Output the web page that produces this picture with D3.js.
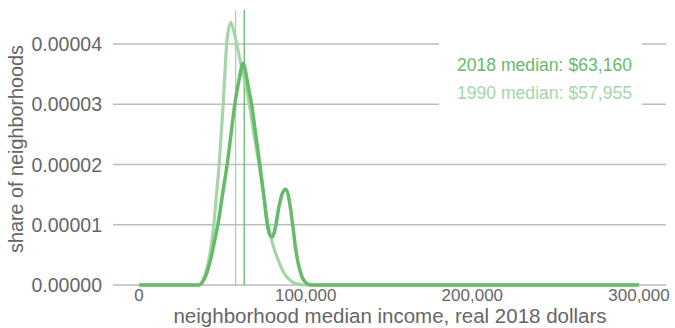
<!DOCTYPE html>
<html><head><meta charset="utf-8">
<script src="https://cdn.jsdelivr.net/npm/d3@7"></script>
<style>
html,body{margin:0;padding:0;background:#fff;}
text{font-family:"Liberation Sans",Arial,sans-serif;}
</style></head>
<body><svg id="c" width="675" height="328"></svg>
<script>
// income (dollars)
const income1990 = [0, 20000, 30000, 36000, 38000, 40000, 42500, 44900, 46500, 48100, 49300, 50500, 51500, 52600, 55000, 57000, 58600, 62500, 66200, 69000, 72000, 74800, 77500, 80000, 83000, 87000, 91000, 96000, 100000, 300000];
// density (share of neighborhoods)
const density1990 = [0, 0, 0, 0, 0.0000005, 0.000002, 0.000005, 0.00001, 0.000015, 0.00002, 0.000025, 0.00003, 0.000035, 0.00004, 0.0000436, 0.000042, 0.00004, 0.000035, 0.00003, 0.000025, 0.00002, 0.000015, 0.00001, 0.000007, 0.0000045, 0.000002, 0.0000007, 0.0000001, 0, 0];
const income2018 = [0, 20000, 30000, 36000, 38000, 40000, 42000, 44000, 45700, 47300, 50100, 52900, 55200, 57500, 60000, 62500, 63500, 65500, 67600, 70000, 72500, 74800, 77000, 78700, 80000, 82000, 84000, 86000, 88000, 89500, 91000, 92200, 94000, 96000, 98000, 100000, 103000, 300000];
const density2018 = [0, 0, 0, 0, 0.0000005, 0.0000015, 0.0000032, 0.0000055, 0.0000078, 0.00001, 0.000015, 0.00002, 0.000025, 0.00003, 0.000034, 0.0000368, 0.000036, 0.000033, 0.00003, 0.000025, 0.00002, 0.000015, 0.00001, 0.0000082, 0.000008, 0.0000098, 0.000013, 0.0000152, 0.0000159, 0.000015, 0.0000125, 0.00001, 0.000006, 0.000003, 0.0000012, 0.0000004, 0, 0];
const median2018 = 63160;
const median1990 = 57955;
const xTicks = [0, 100000, 200000, 300000];
const yTicks = [0, 0.00001, 0.00002, 0.00003, 0.00004];
const legendLabels = ["2018 median: $63,160", "1990 median: $57,955"];

const dark = "#66bb6a", light = "#a5d6a7";
const svg = d3.select("#c");
const x = d3.scaleLinear().domain([0, 300000]).range([139, 639]);
const y = d3.scaleLinear().domain([0, 0.00004]).range([285, 44]);

// gridlines
svg.append("g").selectAll("line").data(yTicks).join("line")
  .attr("x1", 113).attr("x2", 666)
  .attr("y1", d => y(d)).attr("y2", d => y(d))
  .attr("stroke", "#bdbdbd").attr("stroke-width", 1.5);

// y tick labels
svg.append("g").selectAll("text").data(yTicks).join("text")
  .attr("x", 102).attr("y", d => y(d) + 7)
  .attr("text-anchor", "end").attr("font-size", 19.5).attr("fill", "#666")
  .text(d => d3.format(".5f")(d));

// x tick labels
svg.append("g").selectAll("text").data(xTicks).join("text")
  .attr("x", d => x(d)).attr("y", 301)
  .attr("text-anchor", "middle").attr("font-size", 17).attr("fill", "#666")
  .text(d => d3.format(",")(d));

// axis titles
svg.append("text").attr("x", 390).attr("y", 322.5).attr("text-anchor", "middle")
  .attr("font-size", 20.5).attr("fill", "#666")
  .text("neighborhood median income, real 2018 dollars");
svg.append("text").attr("transform", "translate(23,149) rotate(-90)")
  .attr("text-anchor", "middle").attr("font-size", 19.8).attr("fill", "#666")
  .text("share of neighborhoods");

// legend background
svg.append("rect").attr("x", 439).attr("y", 38).attr("width", 203).attr("height", 72).attr("fill", "#fff");

// median lines
svg.append("line").attr("x1", x(median1990)).attr("x2", x(median1990)).attr("y1", 10).attr("y2", 285)
  .attr("stroke", light).attr("stroke-width", 1.3);
svg.append("line").attr("x1", x(median2018)).attr("x2", x(median2018)).attr("y1", 10).attr("y2", 285)
  .attr("stroke", dark).attr("stroke-width", 1.3);

const line = d3.line().x(d => x(d[0])).y(d => y(d[1])).curve(d3.curveMonotoneX);
svg.append("path").attr("d", line(d3.zip(income1990, density1990)))
  .attr("fill", "none").attr("stroke", light).attr("stroke-width", 3.2).attr("stroke-linejoin", "round");
svg.append("path").attr("d", line(d3.zip(income2018, density2018)))
  .attr("fill", "none").attr("stroke", dark).attr("stroke-width", 3.5).attr("stroke-linejoin", "round");

// legend text
svg.append("g").selectAll("text").data(legendLabels).join("text")
  .attr("x", 632).attr("y", (d, i) => 71 + i * 27.5)
  .attr("text-anchor", "end").attr("font-size", 17.6)
  .attr("fill", (d, i) => i === 0 ? dark : light)
  .text(d => d);
</script></body></html>
